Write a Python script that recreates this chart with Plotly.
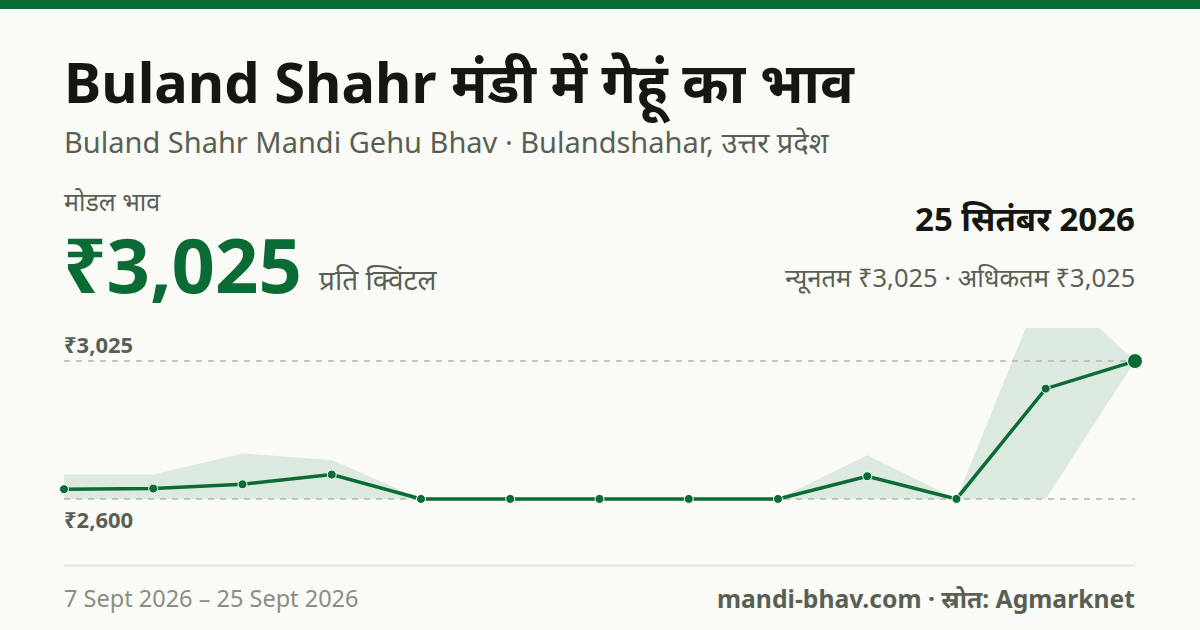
import plotly.graph_objects as go

# ---- data ----
day_index = list(range(13))
modal_price = [2630, 2632, 2645, 2675, 2600, 2600, 2600, 2600, 2600, 2670, 2600, 2940, 3025]
max_price = [2675, 2675, 2740, 2720, 2600, 2600, 2600, 2600, 2600, 2735, 2600, 3280, 3025]
min_price = [2600, 2600, 2600, 2600, 2600, 2600, 2600, 2600, 2600, 2600, 2600, 2600, 3025]
grid_values = [2600, 3025]
grid_labels = ["₹2,600", "₹3,025"]

title_text = "Buland Shahr मंडी में गेहूं का भाव"
subtitle_text = "Buland Shahr Mandi Gehu Bhav · Bulandshahar, उत्तर प्रदेश"
kpi_label = "मोडल भाव"
kpi_value = "₹3,025"
kpi_unit = "प्रति क्विंटल"
date_text = "25 सितंबर 2026"
range_text = "न्यूनतम ₹3,025 · अधिकतम ₹3,025"
period_text = "7 Sept 2026 – 25 Sept 2026"
source_text = "mandi-bhav.com · स्रोत: Agmarknet"

# ---- style ----
W, H = 1200, 630
BG = "#fafbf7"
GREEN = "#0a6b35"
DARK = "#151812"
GREY = "#5a5f55"
FONT = "Noto Sans"

def py(p):
    return 1 - p / H

def px(p):
    return p / W

step = (1135 - 64) / 12
pad_x = 0.2
x_lo, x_hi = -pad_x, 12 + pad_x
dom_l = (64 - pad_x * step) / W
dom_r = (1135 + pad_x * step) / W

lo, hi = min(grid_values), max(grid_values)
pad_y = 0.24 * (hi - lo)

fig = go.Figure()

# band
fig.add_trace(go.Scatter(x=day_index, y=min_price, mode="lines",
                         line=dict(width=0, color="rgba(0,0,0,0)"),
                         hoverinfo="skip", showlegend=False))
fig.add_trace(go.Scatter(x=day_index, y=max_price, mode="lines",
                         line=dict(width=0, color="rgba(0,0,0,0)"),
                         fill="tonexty", fillcolor="rgba(11,107,53,0.12)",
                         hoverinfo="skip", showlegend=False))
# dashed reference lines
for gv in grid_values:
    fig.add_trace(go.Scatter(x=[day_index[0], day_index[-1]], y=[gv, gv], mode="lines",
                             line=dict(color="#b3b4ac", width=1.5, dash="6px,6px"),
                             hoverinfo="skip", showlegend=False))
# main line
sizes = [9] * (len(day_index) - 1) + [15]
fig.add_trace(go.Scatter(x=day_index, y=modal_price, mode="lines+markers",
                         line=dict(color=GREEN, width=3.5),
                         marker=dict(color=GREEN, size=sizes, opacity=1),
                         cliponaxis=False, showlegend=False))

fig.update_xaxes(domain=[dom_l, dom_r], range=[x_lo, x_hi], visible=False, fixedrange=True)
fig.update_yaxes(domain=[py(532), py(328)], range=[lo - pad_y, hi + pad_y], visible=False, fixedrange=True)

ann = []
def add(text, x, y, size, color, bold=False, xanchor="left", yanchor="middle"):
    if bold:
        text = "<b>" + text + "</b>"
    ann.append(dict(text=text, x=px(x), y=py(y), xref="paper", yref="paper",
                    xanchor=xanchor, yanchor=yanchor, showarrow=False,
                    font=dict(family=FONT, size=size, color=color)))

add(title_text, 62, 84, 56, DARK, bold=True)
add(subtitle_text, 62, 142, 29, GREY)
add(kpi_label, 62, 201, 25, GREY)
add(kpi_value, 61, 263, 76, GREEN, bold=True)
add(kpi_unit, 317, 279, 28, GREY)
add(date_text, 1137, 218, 33, DARK, bold=True, xanchor="right")
add(range_text, 1137, 277, 25.5, GREY, xanchor="right")
add(grid_labels[1], 62, 344, 22, GREY, bold=True)
add(grid_labels[0], 62, 519, 22, GREY, bold=True)
add(period_text, 62, 598, 23.5, "#8a8d82")
add(source_text, 1137, 598, 24.7, GREY, bold=True, xanchor="right")

shapes = [
    dict(type="rect", xref="paper", yref="paper", x0=0, x1=1, y0=py(9), y1=1,
         fillcolor=GREEN, line=dict(width=0), layer="above"),
    dict(type="line", xref="paper", yref="paper", x0=px(64), x1=px(1135),
         y0=py(565.5), y1=py(565.5), line=dict(color="#e3e4de", width=2)),
]

fig.update_layout(width=W, height=H, margin=dict(l=0, r=0, t=0, b=0),
                  paper_bgcolor=BG, plot_bgcolor=BG,
                  annotations=ann, shapes=shapes, hovermode=False)

fig.write_html("out.html", config={"displayModeBar": False},
               post_script="document.body.style.margin='0';document.body.style.background='" + BG + "';")
